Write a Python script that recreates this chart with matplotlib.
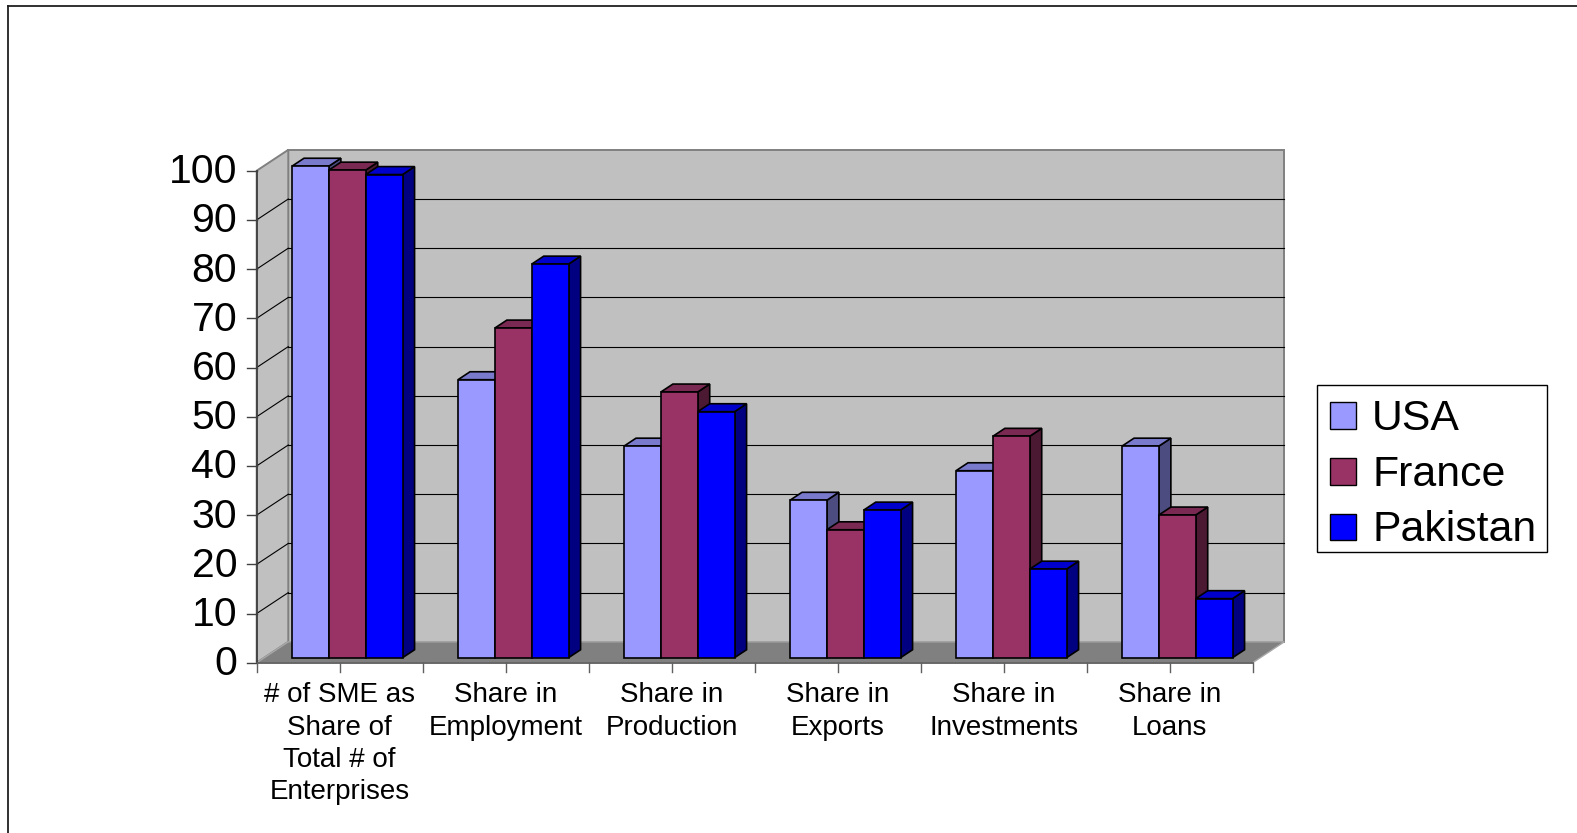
import matplotlib
matplotlib.use("Agg")
import matplotlib.pyplot as plt
from matplotlib.patches import Polygon, Rectangle
from matplotlib.lines import Line2D

# ---------------- data ----------------
categories = [
    ["# of SME as", "Share of", "Total # of", "Enterprises"],
    ["Share in", "Employment"],
    ["Share in", "Production"],
    ["Share in", "Exports"],
    ["Share in", "Investments"],
    ["Share in", "Loans"],
]
series_names = ["USA", "France", "Pakistan"]
usa = [99.9, 56.5, 43.0, 32.0, 38.0, 43.0]
france = [99.1, 67.0, 54.0, 26.0, 45.0, 29.0]
pakistan = [98.2, 80.0, 50.0, 30.0, 18.0, 12.0]
y_ticks = [0, 10, 20, 30, 40, 50, 60, 70, 80, 90, 100]

series_values = [usa, france, pakistan]
face_colors = ["#9999FF", "#993366", "#0000FF"]
top_colors = ["#7A7ACC", "#7A2952", "#0000CC"]
side_colors = ["#4C4C80", "#4C1933", "#000080"]

# ---------------- figure / axes ----------------
W, H = 1577, 833
fig = plt.figure(figsize=(W / 100, H / 100), dpi=100)
plt.rcParams["font.family"] = ["Liberation Sans", "DejaVu Sans"]

X0_PIX, CAT_PIX = 256.7, 166.0   # front plane: x of category 0, px per category
Y0_PIX, VAL_PIX = 662.7, 4.92    # front plane: y of value 0, px per unit

ax = fig.add_axes([0, 0, 1, 1])
ax.set_xlim(-X0_PIX / CAT_PIX, (W - X0_PIX) / CAT_PIX)
ax.set_ylim((Y0_PIX - H) / VAL_PIX, Y0_PIX / VAL_PIX)
ax.axis("off")

n_cat = len(categories)
ymax = 100
DX = 31.6 / CAT_PIX     # depth offset in category units
DY = 20.9 / VAL_PIX     # depth offset in value units

# walls
wall_kw = dict(facecolor="#C0C0C0", edgecolor="#808080", linewidth=1.4)
ax.add_patch(Polygon([(DX, DY), (n_cat + DX, DY), (n_cat + DX, ymax + DY), (DX, ymax + DY)],
                     closed=True, zorder=1, **wall_kw))
ax.add_patch(Polygon([(0, 0), (0, ymax), (DX, ymax + DY), (DX, DY)],
                     closed=True, zorder=1, **wall_kw))
# floor
ax.add_patch(Polygon([(0, 0), (n_cat, 0), (n_cat + DX, DY), (DX, DY)],
                     closed=True, facecolor="#808080", edgecolor="#A8A8A8",
                     linewidth=1.0, zorder=1.5))

# gridlines
for t in y_ticks[1:-1]:
    ax.add_line(Line2D([DX, n_cat + DX], [t + DY, t + DY], color="#000000", lw=0.8, zorder=2))
    ax.add_line(Line2D([0, DX], [t, t + DY], color="#000000", lw=0.8, zorder=2))

# axes lines and ticks
ax.add_line(Line2D([0, 0], [0, ymax], color="#404040", lw=1.3, zorder=2.5))
ax.add_line(Line2D([0, n_cat], [0, 0], color="#606060", lw=1.3, zorder=2.5))
tick_len_x = 10 / CAT_PIX
for t in y_ticks:
    ax.add_line(Line2D([-tick_len_x, 0], [t, t], color="#404040", lw=1.0, zorder=2.5))
    ax.text(-19.5 / CAT_PIX, t - 0.3, str(t), ha="right", va="center",
            fontsize=29.5, color="black")
tick_len_y = 9 / VAL_PIX
for k in range(2 * n_cat + 1):
    xt = k * 0.5
    ax.add_line(Line2D([xt, xt], [0, -tick_len_y], color="#606060", lw=1.0, zorder=2.5))

# category labels
first_base = (Y0_PIX - 702.5) / VAL_PIX
line_pitch = 32.3 / VAL_PIX
for i, lines in enumerate(categories):
    for j, s in enumerate(lines):
        ax.text(i + 0.5, first_base - j * line_pitch, s, ha="center", va="baseline",
                fontsize=20, color="black")

# bars (pseudo-3D)
F0, FD = 0.24, 0.38
bar_w = 0.222
group_off = 0.5 - 1.5 * bar_w
z = 3
for i in range(n_cat):
    for s in range(len(series_values)):
        v = series_values[s][i]
        xl = i + group_off + s * bar_w + F0 * DX
        xr = xl + bar_w
        yb = F0 * DY
        yt = v + F0 * DY
        ddx, ddy = FD * DX, FD * DY
        ekw = dict(edgecolor="black", linewidth=1.2, joinstyle="miter")
        # side face
        ax.add_patch(Polygon([(xr, yb), (xr, yt), (xr + ddx, yt + ddy), (xr + ddx, yb + ddy)],
                             closed=True, facecolor=side_colors[s], zorder=z, **ekw))
        # top face
        ax.add_patch(Polygon([(xl, yt), (xr, yt), (xr + ddx, yt + ddy), (xl + ddx, yt + ddy)],
                             closed=True, facecolor=top_colors[s], zorder=z, **ekw))
        # front face
        ax.add_patch(Polygon([(xl, yb), (xr, yb), (xr, yt), (xl, yt)],
                             closed=True, facecolor=face_colors[s], zorder=z + 0.5, **ekw))
        z += 1

# legend (drawn manually, figure pixel coords)
def fx(x):
    return x / W

def fy(y):
    return 1 - y / H

box_l, box_t, box_r, box_b = 1316.5, 385.0, 1547.0, 551.5
fig.patches.append(Rectangle((fx(box_l), fy(box_b)), fx(box_r) - fx(box_l), fy(box_t) - fy(box_b),
                             transform=fig.transFigure, facecolor="white", edgecolor="black",
                             linewidth=1.0, zorder=10))
row_centers = [415.5, 471.5, 527.0]
sq = 26.5
for s, name in enumerate(series_names):
    cy = row_centers[s]
    fig.patches.append(Rectangle((fx(1329.5), fy(cy + sq / 2)), sq / W, sq / H,
                                 transform=fig.transFigure, facecolor=face_colors[s],
                                 edgecolor="black", linewidth=1.0, zorder=11))
    fig.text(fx(1372), fy(cy + 3), name, ha="left", va="center", fontsize=30.8, color="black",
             zorder=12)

# outer chart border
fig.add_artist(Line2D([fx(8), fx(W)], [fy(6), fy(6)], transform=fig.transFigure,
                      color="#202020", lw=1.3))
fig.add_artist(Line2D([fx(8), fx(8)], [fy(6), fy(H)], transform=fig.transFigure,
                      color="#202020", lw=1.3))

fig.savefig("out.png", dpi=100, facecolor="white")
